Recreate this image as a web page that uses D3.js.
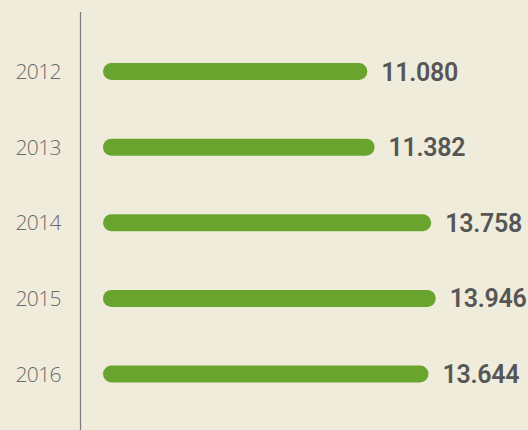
<!DOCTYPE html>
<html>
<head>
<meta charset="utf-8">
<script src="https://cdn.jsdelivr.net/npm/d3@7"></script>
<style>
  html, body { margin: 0; padding: 0; background: #f0ecdc; }
  svg { display: block; }
</style>
</head>
<body>
<div id="chart"></div>
<script>
// data
const years = ["2012", "2013", "2014", "2015", "2016"];
const values = [11.08, 11.382, 13.758, 13.946, 13.644];
const valueLabels = ["11.080", "11.382", "13.758", "13.946", "13.644"];

const width = 528,
  height = 430;

const svg = d3
  .select("#chart")
  .append("svg")
  .attr("width", width)
  .attr("height", height);

svg.append("rect").attr("width", width).attr("height", height).attr("fill", "#f0ecdc");

const x = d3.scaleLinear().domain([0, 14]).range([103, 437]);
const y = d3.scalePoint().domain(years).range([71.5, 374]);

const barH = 17;

// axis line
svg
  .append("line")
  .attr("x1", 80.5)
  .attr("x2", 80.5)
  .attr("y1", 12)
  .attr("y2", height)
  .attr("stroke", "#7a7a7a")
  .attr("stroke-width", 1.2);

const rows = years.map((d, i) => ({ year: d, value: values[i], label: valueLabels[i] }));

svg
  .selectAll("rect.bar")
  .data(rows)
  .join("rect")
  .attr("class", "bar")
  .attr("x", x(0))
  .attr("y", (d) => y(d.year) - barH / 2)
  .attr("width", (d) => x(d.value) - x(0))
  .attr("height", barH)
  .attr("rx", barH / 2)
  .attr("fill", "#69a42f");

svg
  .selectAll("text.year")
  .data(rows)
  .join("text")
  .attr("class", "year")
  .attr("x", 61)
  .attr("y", (d) => y(d.year))
  .attr("dy", "0.36em")
  .attr("text-anchor", "end")
  .attr("font-family", "'Open Sans', sans-serif")
  .attr("font-weight", 300)
  .attr("font-size", 21)
  .attr("letter-spacing", -0.6)
  .attr("fill", "#6a6a6a")
  .text((d) => d.year);

svg
  .selectAll("text.val")
  .data(rows)
  .join("text")
  .attr("class", "val")
  .attr("x", (d) => x(d.value) + 14)
  .attr("y", (d) => y(d.year))
  .attr("dy", "0.36em")
  .attr("font-family", "Roboto, sans-serif")
  .attr("font-weight", 600)
  .attr("font-size", 25)
  .attr("letter-spacing", -0.3)
  .attr("fill", "#565656")
  .text((d) => d.label);
</script>
</body>
</html>
